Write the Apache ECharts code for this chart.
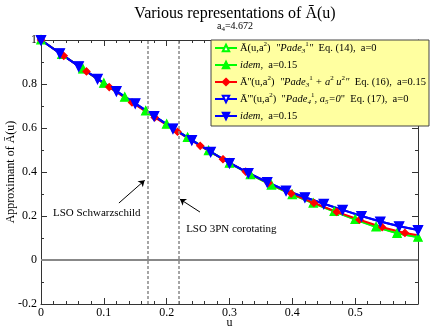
<!DOCTYPE html>
<html>
<head>
<meta charset="utf-8">
<script src="https://cdn.jsdelivr.net/npm/echarts@6/dist/echarts.min.js"></script>
<style>
html, body { margin: 0; padding: 0; background: #fff; }
#main { width: 439px; height: 327px; }
</style>
</head>
<body>
<div id="main"></div>
<script>
// u positions of the markers (each curve samples differently)
var uGreen = [0, 0.0333, 0.0667, 0.1, 0.1333, 0.1667, 0.2, 0.2333, 0.2667, 0.3, 0.3333, 0.3667, 0.4, 0.4333, 0.4667, 0.5, 0.5333, 0.5667, 0.6];
var uRed = [0, 0.0362, 0.0724, 0.1086, 0.1448, 0.181, 0.2172, 0.2534, 0.2896, 0.3258, 0.362, 0.3982, 0.4344, 0.4706, 0.5068, 0.543, 0.5792, 0.6];
var uBlue = [0, 0.03, 0.06, 0.09, 0.12, 0.15, 0.18, 0.21, 0.24, 0.27, 0.3, 0.33, 0.36, 0.39, 0.42, 0.45, 0.48, 0.51, 0.54, 0.57, 0.6];

var greenA0 = [1.0, 0.934, 0.868, 0.803, 0.740, 0.677, 0.617, 0.557, 0.497, 0.440, 0.388, 0.340, 0.297, 0.258, 0.220, 0.184, 0.150, 0.121, 0.103];
var greenA15 = [1.0, 0.934, 0.868, 0.803, 0.740, 0.678, 0.617, 0.557, 0.498, 0.440, 0.389, 0.341, 0.298, 0.259, 0.221, 0.185, 0.151, 0.122, 0.104];
var redA15 = [1.0, 0.928, 0.857, 0.786, 0.716, 0.648, 0.583, 0.519, 0.458, 0.402, 0.350, 0.302, 0.259, 0.219, 0.183, 0.149, 0.123, 0.113];
var blueA0 = [1.0, 0.940, 0.881, 0.824, 0.768, 0.712, 0.655, 0.598, 0.545, 0.492, 0.441, 0.396, 0.354, 0.316, 0.285, 0.256, 0.228, 0.200, 0.175, 0.153, 0.136];
var blueA15 = [1.0, 0.940, 0.881, 0.824, 0.768, 0.712, 0.655, 0.598, 0.545, 0.492, 0.441, 0.396, 0.354, 0.316, 0.285, 0.256, 0.228, 0.200, 0.175, 0.153, 0.136];

var lsoSchw = 1 / 6;
var lso3PN = 0.2195;

var seriesNames = ['g0', 'g15', 'r15', 'b0', 'b15'];
var legendText = {
    g0: '{t|Ā(u,a}{sup|2}{t|)  }{i|"Pade}{sub|3}{sup|1}{i|"}{t|  Eq. (14),  a=0}',
    g15: '{i|idem,}{t|  a=0.15}',
    r15: '{t|Ā\'\'(u,a}{sup|2}{t|)  }{i|"Pade}{sub|3}{sup|1}{i| + a}{sup|2}{i| u}{sup|2}{i|"}{t|  Eq. (16),  a=0.15}',
    b0: '{t|Ā\'\'\'(u,a}{sup|2}{t|)  "}{i|Pade}{sub|4}{sup|1}{i|, a}{sub|5}{i|=0}{t|"  Eq. (17),  a=0}',
    b15: '{i|idem,}{t|  a=0.15}'
};

function pairs(xs, ys) {
    var out = [];
    for (var i = 0; i < xs.length; i++) {
        out.push([xs[i], ys[i]]);
    }
    return out;
}

var font = 'Liberation Serif';
var GREEN = '#00ff00', RED = '#ff0000', BLUE = '#0000ff';

function lineSeries(name, data, color, symbol, rotate, size) {
    return {
        name: name,
        type: 'line',
        data: data,
        symbol: symbol,
        symbolSize: size,
        symbolRotate: rotate,
        showAllSymbol: true,
        lineStyle: { color: color, width: 2 },
        itemStyle: { color: color, borderColor: color, borderWidth: 1.2 },
        smooth: false
    };
}

var redData = pairs(uRed, redA15);
// the line runs to the edge; no marker at the last sample
redData[redData.length - 1] = { value: redData[redData.length - 1], symbol: 'none' };

var series = [
    lineSeries('g0', pairs(uGreen, greenA0), GREEN, 'emptyTriangle', 0, 7),
    lineSeries('g15', pairs(uGreen, greenA15), GREEN, 'triangle', 0, 7),
    lineSeries('r15', redData, RED, 'diamond', 0, 7),
    lineSeries('b0', pairs(uBlue, blueA0), BLUE, 'emptyTriangle', 180, 8),
    lineSeries('b15', pairs(uBlue, blueA15), BLUE, 'triangle', 180, 8)
];

// reference lines: zero line and the two LSO positions
series[0].markLine = {
    silent: true,
    symbol: ['none', 'none'],
    label: { show: false },
    data: [
        { yAxis: 0, lineStyle: { color: '#888', width: 2, type: 'solid' } },
        { xAxis: lsoSchw, lineStyle: { color: '#888', width: 1.5, type: [3, 2] } },
        { xAxis: lso3PN, lineStyle: { color: '#888', width: 1.5, type: [3, 2] } }
    ]
};
// annotation arrows
series[1].markLine = {
    silent: true,
    symbol: ['none', 'arrow'],
    symbolSize: 6,
    label: { show: false },
    lineStyle: { color: '#000', width: 1, type: 'solid' },
    data: [
        [{ coord: [0.124, 0.259] }, { coord: [0.165, 0.362] }],
        [{ coord: [0.253, 0.218] }, { coord: [0.221, 0.277] }]
    ]
};

function axisCommon() {
    return {
        type: 'value',
        axisLine: { show: true, onZero: false, lineStyle: { color: '#333', width: 1 } },
        axisTick: { show: true, inside: true, length: 6, lineStyle: { color: '#333' } },
        minorTick: { show: true, length: 3, lineStyle: { color: '#333' } },
        splitLine: { show: false },
        minorSplitLine: { show: false },
        nameMoveOverlap: false
    };
}

var xBottom = Object.assign(axisCommon(), {
    position: 'bottom', min: 0, max: 0.6, interval: 0.1,
    minorTick: { show: true, splitNumber: 5, length: 3, lineStyle: { color: '#333' } },
    name: 'u', nameLocation: 'middle', nameGap: 13,
    nameTextStyle: { fontFamily: font, fontSize: 12, color: '#000' },
    axisLabel: {
        fontFamily: font, fontSize: 12, color: '#000', margin: 3,
        formatter: function (v) { return v > 0.55 ? '' : String(Math.round(v * 10) / 10); }
    }
});
var xTop = Object.assign(axisCommon(), {
    position: 'top', min: 0, max: 0.6, interval: 0.1,
    minorTick: { show: true, splitNumber: 5, length: 3, lineStyle: { color: '#333' } },
    axisLabel: { show: false }
});
var yLeft = Object.assign(axisCommon(), {
    position: 'left', min: -0.2, max: 1, interval: 0.2,
    minorTick: { show: true, splitNumber: 2, length: 3, lineStyle: { color: '#333' } },
    name: 'Approximant of Ā(u)', nameLocation: 'middle', nameGap: 24,
    nameTextStyle: { fontFamily: font, fontSize: 12, color: '#000' },
    axisLabel: {
        fontFamily: font, fontSize: 12, color: '#000', margin: 4,
        formatter: function (v) { return String(Math.round(v * 10) / 10); }
    }
});
var yRight = Object.assign(axisCommon(), {
    position: 'right', min: -0.2, max: 1, interval: 0.2,
    minorTick: { show: true, splitNumber: 2, length: 3, lineStyle: { color: '#333' } },
    axisLabel: { show: false }
});

var chart = echarts.init(document.getElementById('main'), null, { renderer: 'canvas' });
chart.setOption({
    animation: false,
    backgroundColor: '#fff',
    textStyle: { fontFamily: font },
    title: {
        text: 'Various representations of Ā(u)',
        subtext: '{n|a}{sub|4}{n|=4.672}',
        left: 230,
        top: 1,
        textAlign: 'center',
        itemGap: -3,
        textStyle: { fontFamily: font, fontSize: 16, fontWeight: 'normal', color: '#000' },
        subtextStyle: {
            color: '#000',
            rich: {
                n: { fontFamily: font, fontSize: 10, color: '#000' },
                sub: { fontFamily: font, fontSize: 7, color: '#000', verticalAlign: 'bottom', lineHeight: 14 }
            }
        }
    },
    grid: { left: 41, right: 21, top: 40, bottom: 23, containLabel: false, outerBoundsMode: 'none' },
    xAxis: [xBottom, xTop],
    yAxis: [yLeft, yRight],
    legend: {
        orient: 'vertical',
        left: 211,
        top: 40,
        data: seriesNames,
        backgroundColor: '#ffffa0',
        borderColor: '#444',
        borderWidth: 1,
        borderRadius: 0,
        padding: [1, 3, 3, 3],
        itemGap: 3,
        itemWidth: 22,
        itemHeight: 8,
        z: 10,
        formatter: function (name) { return legendText[name]; },
        textStyle: {
            fontFamily: font,
            fontSize: 10,
            color: '#000',
            lineHeight: 14,
            padding: [0, 0, 0, -2],
            rich: {
                t: { fontFamily: font, fontSize: 10.5, color: '#000', lineHeight: 14 },
                i: { fontFamily: font, fontSize: 10.5, fontStyle: 'italic', color: '#000', lineHeight: 14 },
                sup: { fontFamily: font, fontSize: 7, color: '#000', verticalAlign: 'top', lineHeight: 14 },
                sub: { fontFamily: font, fontSize: 7, fontStyle: 'italic', color: '#000', verticalAlign: 'bottom', lineHeight: 14 }
            }
        }
    },
    series: series
});

// annotation labels anchored in data space
var p1 = chart.convertToPixel({ gridIndex: 0 }, [0.019, 0.214]);
var p2 = chart.convertToPixel({ gridIndex: 0 }, [0.231, 0.14]);
chart.setOption({
    graphic: [
        { type: 'text', x: p1[0], y: p1[1], style: { text: 'LSO Schwarzschild', font: '11px "Liberation Serif"', fill: '#000', verticalAlign: 'middle' } },
        { type: 'text', x: p2[0], y: p2[1], style: { text: 'LSO 3PN corotating', font: '11px "Liberation Serif"', fill: '#000', verticalAlign: 'middle' } }
    ]
});
</script>
</body>
</html>
